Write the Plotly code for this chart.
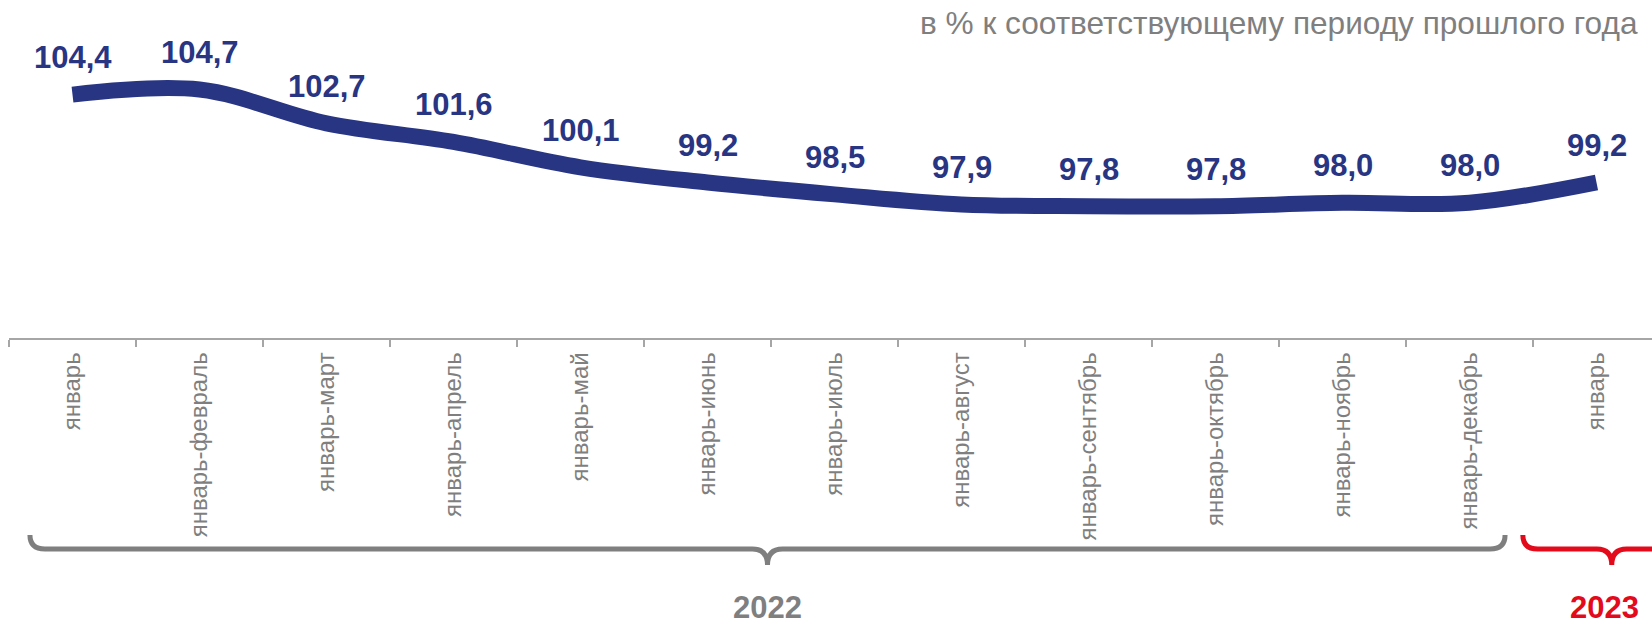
import plotly.graph_objects as go

# ---- data ----
periods = ["январь", "январь-февраль", "январь-март", "январь-апрель", "январь-май",
           "январь-июнь", "январь-июль", "январь-август", "январь-сентябрь",
           "январь-октябрь", "январь-ноябрь", "январь-декабрь", "январь"]
values = [104.4, 104.7, 102.7, 101.6, 100.1, 99.2, 98.5, 97.9, 97.8, 97.8, 98.0, 98.0, 99.2]
years = ["2022", "2023"]
year_first_idx = [0, 12]
year_last_idx = [11, 12]
subtitle = "в % к соответствующему периоду прошлого года"

# ---- style ----
W, H = 1652, 625
ML, MT = 9, 0
PLOT_H = 338
MB = H - MT - PLOT_H
PX_PER_CAT = 127.0
X0 = -0.5
X1 = X0 + (W - ML) / PX_PER_CAT
FONT = "Liberation Sans, Arial, sans-serif"
NAVY = "#283583"
GREY = "#7f7f7f"
RED = "#e30a1b"

x = list(range(len(values)))

fig = go.Figure()
fig.add_trace(go.Scatter(
    x=x, y=values, mode="lines",
    line=dict(color=NAVY, width=16, shape="spline", smoothing=1.0),
    hoverinfo="skip", showlegend=False,
))

for xi, v in zip(x, values):
    fig.add_annotation(x=xi, y=v, xref="x", yref="y",
                       text=f"{v:.1f}".replace(".", ","), showarrow=False,
                       yshift=37, yanchor="middle",
                       font=dict(family=FONT, size=31, color=NAVY, weight="bold"))

fig.add_annotation(x=1, y=1, xref="paper", yref="paper", xanchor="right", yanchor="top",
                   text=subtitle, showarrow=False, xshift=-12, yshift=-3,
                   font=dict(family=FONT, size=31.6, color=GREY))


def px_x(v):
    return ML + (v - X0) * PX_PER_CAT


def paper_x(px):
    return (px - ML) / (W - ML)


def paper_y(py):
    return (MT + PLOT_H - py) / PLOT_H


def brace(xa, xb, xm, y_top, y_mid, y_tip, r=15):
    def P(px, py):
        return f"{paper_x(px):.5f},{paper_y(py):.5f}"
    return (f"M {P(xa, y_top)} Q {P(xa, y_mid)} {P(xa + r, y_mid)} "
            f"L {P(xm - r, y_mid)} Q {P(xm, y_mid)} {P(xm, y_tip)} "
            f"Q {P(xm, y_mid)} {P(xm + r, y_mid)} "
            f"L {P(xb - r, y_mid)} Q {P(xb, y_mid)} {P(xb, y_top)}")


colors = [GREY, RED]
for yr, a, b, c in zip(years, year_first_idx, year_last_idx, colors):
    if yr == "2022":
        xa, xb = px_x(a - 0.335), px_x(b + 0.28)
        xm = (xa + xb) / 2
        xt = xm
    else:
        xa, xb = px_x(a - 0.58), px_x(b + 0.82)
        xm = px_x(b + 0.12)
        xt = xm - 7
    fig.add_shape(type="path", xref="paper", yref="paper",
                  path=brace(xa, xb, xm, 535, 549, 565),
                  line=dict(color=c, width=5), layer="above")
    fig.add_annotation(x=paper_x(xt), y=paper_y(607), xref="paper", yref="paper",
                       text=yr, showarrow=False, xanchor="center", yanchor="middle",
                       font=dict(family=FONT, size=31, color=c, weight="bold"))

fig.update_layout(
    width=W, height=H,
    margin=dict(l=ML, r=0, t=MT, b=MB, autoexpand=False),
    paper_bgcolor="white", plot_bgcolor="white",
    xaxis=dict(range=[X0, X1], tickmode="array", tickvals=x, ticktext=periods,
               tickangle=-90, ticks="", showgrid=False, zeroline=False,
               showline=True, linecolor="#a6a6a6", linewidth=1.5,
               tickfont=dict(family=FONT, size=24, color=GREY),
               ticklabelstandoff=3,
               minor=dict(tickmode="linear", tick0=-0.5, dtick=1, ticks="outside",
                          ticklen=7, tickcolor="#a6a6a6", tickwidth=1.5, showgrid=False),
               fixedrange=True),
    yaxis=dict(range=[90, 110], visible=False, fixedrange=True),
)

fig.write_html("out.html", config={"displayModeBar": False},
               post_script="document.body.style.margin='0';document.body.style.overflow='hidden';")
